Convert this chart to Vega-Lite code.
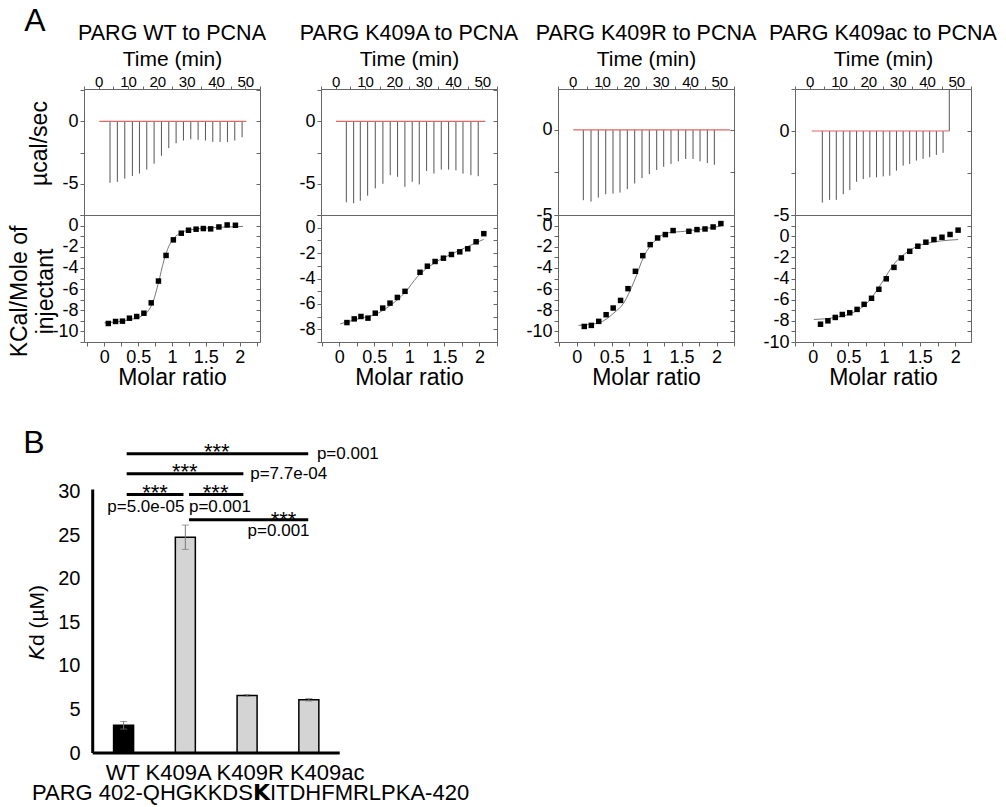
{
"$schema": "https://vega.github.io/schema/vega-lite/v6.json",
"padding": {"left": 8, "top": 5, "right": 5, "bottom": 5},
"config": {
  "font": "Liberation Sans",
  "view": {"stroke": "#666", "strokeWidth": 1},
  "axis": {"grid": false, "domain": false, "labelColor": "#000", "titleColor": "#000", "tickColor": "#666", "titleFontWeight": "normal", "labelFlush": false, "labelOverlap": false},
  "title": {"fontWeight": "normal", "fontSize": 21.5, "color": "#000"}
},
"datasets": {
  "base": [
    {"p":"WT","t":0.2,"t2":50.3,"v":0},
    {"p":"K409A","t":0.1,"t2":51,"v":0},
    {"p":"K409R","t":0.2,"t2":53.6,"v":0},
    {"p":"K409ac","t":0.7,"t2":47.6,"v":0}
  ],
  "spikes": [
    {"p":"WT","t":3.87,"v":-4.92},{"p":"WT","t":6.37,"v":-4.84},{"p":"WT","t":8.9,"v":-4.58},{"p":"WT","t":11.5,"v":-4.37},{"p":"WT","t":13.9,"v":-4.18},{"p":"WT","t":16.4,"v":-3.86},{"p":"WT","t":18.9,"v":-3.39},{"p":"WT","t":21.4,"v":-2.75},{"p":"WT","t":23.9,"v":-2.14},{"p":"WT","t":26.4,"v":-1.75},{"p":"WT","t":28.9,"v":-1.53},{"p":"WT","t":31.4,"v":-1.43},{"p":"WT","t":33.9,"v":-1.48},{"p":"WT","t":36.4,"v":-1.53},{"p":"WT","t":38.9,"v":-1.64},{"p":"WT","t":41.4,"v":-1.64},{"p":"WT","t":43.9,"v":-1.64},{"p":"WT","t":46.4,"v":-1.53},{"p":"WT","t":48.9,"v":-1.27},
    {"p":"K409A","t":3.63,"v":-6.48},{"p":"K409A","t":6.13,"v":-6.56},{"p":"K409A","t":8.4,"v":-6.35},{"p":"K409A","t":10.9,"v":-5.95},{"p":"K409A","t":13.5,"v":-5.37},{"p":"K409A","t":16.1,"v":-5.0},{"p":"K409A","t":18.6,"v":-4.31},{"p":"K409A","t":21.1,"v":-4.44},{"p":"K409A","t":23.6,"v":-5.24},{"p":"K409A","t":26.1,"v":-4.84},{"p":"K409A","t":28.5,"v":-5.05},{"p":"K409A","t":31.0,"v":-3.97},{"p":"K409A","t":33.5,"v":-4.18},{"p":"K409A","t":36.0,"v":-3.86},{"p":"K409A","t":38.5,"v":-3.86},{"p":"K409A","t":41.0,"v":-3.92},{"p":"K409A","t":43.4,"v":-4.18},{"p":"K409A","t":46.1,"v":-4.31},{"p":"K409A","t":48.6,"v":-4.39},
    {"p":"K409R","t":3.63,"v":-4.13},{"p":"K409R","t":6.25,"v":-4.21},{"p":"K409R","t":8.74,"v":-3.98},{"p":"K409R","t":11.27,"v":-3.78},{"p":"K409R","t":13.75,"v":-3.74},{"p":"K409R","t":16.14,"v":-3.68},{"p":"K409R","t":18.63,"v":-3.48},{"p":"K409R","t":21.14,"v":-3.15},{"p":"K409R","t":23.64,"v":-2.83},{"p":"K409R","t":26.13,"v":-2.6},{"p":"K409R","t":28.65,"v":-2.36},{"p":"K409R","t":31.03,"v":-2.17},{"p":"K409R","t":33.52,"v":-2.0},{"p":"K409R","t":36.02,"v":-1.85},{"p":"K409R","t":38.54,"v":-1.71},{"p":"K409R","t":41.03,"v":-1.71},{"p":"K409R","t":43.42,"v":-1.85},{"p":"K409R","t":45.91,"v":-1.95},{"p":"K409R","t":48.3,"v":-2.05},
    {"p":"K409ac","t":4.32,"v":-4.26},{"p":"K409ac","t":6.8,"v":-4.1},{"p":"K409ac","t":9.08,"v":-4.1},{"p":"K409ac","t":11.46,"v":-3.76},{"p":"K409ac","t":13.7,"v":-3.52},{"p":"K409ac","t":15.99,"v":-3.02},{"p":"K409ac","t":18.27,"v":-2.86},{"p":"K409ac","t":20.52,"v":-2.76},{"p":"K409ac","t":22.79,"v":-2.76},{"p":"K409ac","t":25.07,"v":-2.7},{"p":"K409ac","t":27.31,"v":-2.66},{"p":"K409ac","t":29.59,"v":-2.36},{"p":"K409ac","t":31.87,"v":-2.06},{"p":"K409ac","t":34.1,"v":-1.96},{"p":"K409ac","t":36.39,"v":-1.76},{"p":"K409ac","t":38.67,"v":-1.66},{"p":"K409ac","t":40.91,"v":-1.56},{"p":"K409ac","t":43.2,"v":-1.42},{"p":"K409ac","t":45.48,"v":-1.3},{"p":"K409ac","t":47.6,"v":2.5}
  ],
  "iso": [
    {"p":"WT","x":0.059,"y":-9.25},{"p":"WT","x":0.166,"y":-9.06},{"p":"WT","x":0.268,"y":-9.03},{"p":"WT","x":0.371,"y":-8.75},{"p":"WT","x":0.478,"y":-8.59},{"p":"WT","x":0.585,"y":-8.28},{"p":"WT","x":0.693,"y":-7.3},{"p":"WT","x":0.8,"y":-5.24},{"p":"WT","x":0.912,"y":-2.82},{"p":"WT","x":1.02,"y":-1.35},{"p":"WT","x":1.137,"y":-0.72},{"p":"WT","x":1.244,"y":-0.44},{"p":"WT","x":1.356,"y":-0.34},{"p":"WT","x":1.463,"y":-0.28},{"p":"WT","x":1.571,"y":-0.31},{"p":"WT","x":1.693,"y":-0.13},{"p":"WT","x":1.815,"y":0.06},{"p":"WT","x":1.937,"y":0.03},
    {"p":"K409A","x":0.11,"y":-7.47},{"p":"K409A","x":0.214,"y":-7.18},{"p":"K409A","x":0.31,"y":-6.99},{"p":"K409A","x":0.41,"y":-7.12},{"p":"K409A","x":0.514,"y":-6.73},{"p":"K409A","x":0.62,"y":-6.33},{"p":"K409A","x":0.724,"y":-5.94},{"p":"K409A","x":0.829,"y":-5.49},{"p":"K409A","x":0.938,"y":-5.01},{"p":"K409A","x":1.152,"y":-3.51},{"p":"K409A","x":1.257,"y":-3.03},{"p":"K409A","x":1.367,"y":-2.66},{"p":"K409A","x":1.486,"y":-2.4},{"p":"K409A","x":1.6,"y":-2.11},{"p":"K409A","x":1.719,"y":-1.9},{"p":"K409A","x":1.833,"y":-1.66},{"p":"K409A","x":1.952,"y":-1.11},{"p":"K409A","x":2.062,"y":-0.47},
    {"p":"K409R","x":0.106,"y":-9.53},{"p":"K409R","x":0.207,"y":-9.43},{"p":"K409R","x":0.313,"y":-9.05},{"p":"K409R","x":0.419,"y":-8.42},{"p":"K409R","x":0.52,"y":-7.79},{"p":"K409R","x":0.626,"y":-7.07},{"p":"K409R","x":0.732,"y":-5.96},{"p":"K409R","x":0.838,"y":-4.32},{"p":"K409R","x":0.944,"y":-2.84},{"p":"K409R","x":1.05,"y":-1.8},{"p":"K409R","x":1.156,"y":-1.17},{"p":"K409R","x":1.267,"y":-0.85},{"p":"K409R","x":1.378,"y":-0.47},{"p":"K409R","x":1.604,"y":-0.54},{"p":"K409R","x":1.72,"y":-0.38},{"p":"K409R","x":1.835,"y":-0.32},{"p":"K409R","x":1.951,"y":-0.13},{"p":"K409R","x":2.062,"y":0.19},
    {"p":"K409ac","x":0.108,"y":-8.32},{"p":"K409ac","x":0.212,"y":-8.0},{"p":"K409ac","x":0.315,"y":-7.68},{"p":"K409ac","x":0.414,"y":-7.4},{"p":"K409ac","x":0.518,"y":-7.24},{"p":"K409ac","x":0.621,"y":-6.92},{"p":"K409ac","x":0.72,"y":-6.44},{"p":"K409ac","x":0.824,"y":-5.87},{"p":"K409ac","x":0.927,"y":-5.02},{"p":"K409ac","x":1.031,"y":-4.03},{"p":"K409ac","x":1.139,"y":-2.95},{"p":"K409ac","x":1.243,"y":-2.06},{"p":"K409ac","x":1.36,"y":-1.43},{"p":"K409ac","x":1.474,"y":-0.95},{"p":"K409ac","x":1.587,"y":-0.57},{"p":"K409ac","x":1.7,"y":-0.32},{"p":"K409ac","x":1.813,"y":-0.1},{"p":"K409ac","x":1.926,"y":0.16},{"p":"K409ac","x":2.039,"y":0.57}
  ],
  "fit": [
    {"p":"WT","x":0.0,"y":-9.2},{"p":"WT","x":0.2,"y":-9.08},{"p":"WT","x":0.4,"y":-8.85},{"p":"WT","x":0.55,"y":-8.55},{"p":"WT","x":0.65,"y":-8.05},{"p":"WT","x":0.72,"y":-7.2},{"p":"WT","x":0.8,"y":-5.4},{"p":"WT","x":0.88,"y":-3.3},{"p":"WT","x":0.95,"y":-2.0},{"p":"WT","x":1.02,"y":-1.25},{"p":"WT","x":1.1,"y":-0.78},{"p":"WT","x":1.2,"y":-0.5},{"p":"WT","x":1.35,"y":-0.33},{"p":"WT","x":1.6,"y":-0.2},{"p":"WT","x":2.05,"y":-0.08},
    {"p":"K409A","x":0.014,"y":-7.57},{"p":"K409A","x":0.31,"y":-7.12},{"p":"K409A","x":0.5,"y":-6.86},{"p":"K409A","x":0.74,"y":-6.07},{"p":"K409A","x":0.93,"y":-5.15},{"p":"K409A","x":1.12,"y":-3.83},{"p":"K409A","x":1.36,"y":-2.77},{"p":"K409A","x":1.64,"y":-1.98},{"p":"K409A","x":2.06,"y":-0.92},
    {"p":"K409R","x":0.024,"y":-9.43},{"p":"K409R","x":0.31,"y":-9.2},{"p":"K409R","x":0.53,"y":-8.26},{"p":"K409R","x":0.67,"y":-7.32},{"p":"K409R","x":0.82,"y":-5.27},{"p":"K409R","x":0.96,"y":-2.9},{"p":"K409R","x":1.11,"y":-1.48},{"p":"K409R","x":1.3,"y":-0.69},{"p":"K409R","x":1.54,"y":-0.54},{"p":"K409R","x":2.06,"y":-0.06},
    {"p":"K409ac","x":0.014,"y":-7.87},{"p":"K409ac","x":0.315,"y":-7.68},{"p":"K409ac","x":0.59,"y":-7.14},{"p":"K409ac","x":0.78,"y":-6.19},{"p":"K409ac","x":0.965,"y":-4.44},{"p":"K409ac","x":1.15,"y":-2.54},{"p":"K409ac","x":1.34,"y":-1.43},{"p":"K409ac","x":1.58,"y":-0.7},{"p":"K409ac","x":2.04,"y":-0.32}
  ],
  "kd": [
    {"variant":"WT","pos":1,"kd":3.2,"lo":2.75,"hi":3.62},
    {"variant":"K409A","pos":2,"kd":24.8,"lo":23.4,"hi":26.2},
    {"variant":"K409R","pos":3,"kd":6.62,"lo":6.52,"hi":6.72},
    {"variant":"K409ac","pos":4,"kd":6.12,"lo":5.97,"hi":6.27}
  ],
  "brackets": [
    {"from":1.05,"to":3.99,"y":34.4},
    {"from":1.05,"to":2.94,"y":32.1},
    {"from":1.05,"to":1.97,"y":29.7},
    {"from":2.06,"to":2.94,"y":29.7},
    {"from":2.06,"to":3.99,"y":26.8}
  ],
  "stars": [
    {"x":2.51,"y":33.77,"label":"***"},
    {"x":1.99,"y":31.47,"label":"***"},
    {"x":1.51,"y":29.09,"label":"***"},
    {"x":2.49,"y":29.09,"label":"***"},
    {"x":3.59,"y":26.03,"label":"***"}
  ],
  "pvals": [
    {"x":4.13,"y":34.4,"label":"p=0.001","side":"right"},
    {"x":3.05,"y":32.1,"label":"p=7.7e-04","side":"right"},
    {"x":1.36,"y":28.25,"label":"p=5.0e-05","side":"below"},
    {"x":2.56,"y":28.25,"label":"p=0.001","side":"below"},
    {"x":3.51,"y":25.47,"label":"p=0.001","side":"below"}
  ],
  "letters": [
    {"label":"A","x":-0.435,"y":84.1},
    {"label":"B","x":-0.451,"y":35.6}
  ],
  "bottomtext": [
    {"label":"WT K409A K409R K409ac","x":0.71,"y":-3.07},
    {"label":"PARG 402-QHGKKDS\ud835\udddeITDHFMRLPKA-420","x":-0.483,"y":-5.37}
  ]
},
"columns": 4,
"bounds": "flush",
"spacing": {"row": 0, "column": 61},
"concat": [
 {
  "width": 176, "height": 126,
  "title": {"text": "PARG WT to PCNA", "offset": 4},
  "encoding": {
    "x": {"field": "t", "type": "quantitative", "scale": {"domain": [-5, 55], "nice": false, "zero": false}, "axis": {"orient": "top", "title": "Time (min)", "values": [-5,0,5,10,15,20,25,30,35,40,45,50,55], "labelExpr": "datum.value >= 0 && datum.value <= 50 && datum.value % 10 == 0 ? '' + datum.value : ''", "labelFontSize": 15, "titleFontSize": 21, "tickSize": 3, "labelPadding": -3, "titlePadding": 5}},
    "y": {"field": "v", "type": "quantitative", "scale": {"domain": [-7.5, 2.6], "nice": false, "zero": false}, "axis": {"title": "µcal/sec", "titleY": 54, "values": [-7.5,-5,-2.5,0,2.5], "labelExpr": "datum.value % 5 == 0 ? '' + datum.value : ''", "labelFontSize": 18, "titleFontSize": 23, "tickSize": 4, "labelPadding": 2, "titlePadding": 10}}
  },
  "resolve": {"axis": {"y": "independent"}},
  "layer": [
    {"data": {"name": "spikes"}, "transform": [{"filter": "datum.p == 'WT'"}], "mark": {"type": "rule", "color": "#555", "strokeWidth": 1, "clip": true}, "encoding": {"y2": {"datum": 0}}},
    {"data": {"name": "base"}, "transform": [{"filter": "datum.p == 'WT'"}], "mark": {"type": "rule", "color": "#e06666", "strokeWidth": 1.2}, "encoding": {"x2": {"field": "t2"}, "y": {"field": "v", "type": "quantitative", "axis": {"orient": "right", "labels": false, "title": null, "values": [-7.5,-5,-2.5,0,2.5], "tickSize": -4}}}}
  ]
 },
 {
  "width": 176, "height": 126,
  "title": {"text": "PARG K409A to PCNA", "offset": 4},
  "encoding": {
    "x": {"field": "t", "type": "quantitative", "scale": {"domain": [-5, 55], "nice": false, "zero": false}, "axis": {"orient": "top", "title": "Time (min)", "values": [-5,0,5,10,15,20,25,30,35,40,45,50,55], "labelExpr": "datum.value >= 0 && datum.value <= 50 && datum.value % 10 == 0 ? '' + datum.value : ''", "labelFontSize": 15, "titleFontSize": 21, "tickSize": 3, "labelPadding": -3, "titlePadding": 5}},
    "y": {"field": "v", "type": "quantitative", "scale": {"domain": [-7.5, 2.6], "nice": false, "zero": false}, "axis": {"title": null, "values": [-7.5,-5,-2.5,0,2.5], "labelExpr": "datum.value % 5 == 0 ? '' + datum.value : ''", "labelFontSize": 18, "tickSize": 4, "labelPadding": 2}}
  },
  "resolve": {"axis": {"y": "independent"}},
  "layer": [
    {"data": {"name": "spikes"}, "transform": [{"filter": "datum.p == 'K409A'"}], "mark": {"type": "rule", "color": "#555", "strokeWidth": 1, "clip": true}, "encoding": {"y2": {"datum": 0}}},
    {"data": {"name": "base"}, "transform": [{"filter": "datum.p == 'K409A'"}], "mark": {"type": "rule", "color": "#e06666", "strokeWidth": 1.2}, "encoding": {"x2": {"field": "t2"}, "y": {"field": "v", "type": "quantitative", "axis": {"orient": "right", "labels": false, "title": null, "values": [-7.5,-5,-2.5,0,2.5], "tickSize": -4}}}}
  ]
 },
 {
  "width": 176, "height": 126,
  "title": {"text": "PARG K409R to PCNA", "offset": 4},
  "encoding": {
    "x": {"field": "t", "type": "quantitative", "scale": {"domain": [-5, 55], "nice": false, "zero": false}, "axis": {"orient": "top", "title": "Time (min)", "values": [-5,0,5,10,15,20,25,30,35,40,45,50,55], "labelExpr": "datum.value >= 0 && datum.value <= 50 && datum.value % 10 == 0 ? '' + datum.value : ''", "labelFontSize": 15, "titleFontSize": 21, "tickSize": 3, "labelPadding": -3, "titlePadding": 5}},
    "y": {"field": "v", "type": "quantitative", "scale": {"domain": [-5, 2.4], "nice": false, "zero": false}, "axis": {"title": null, "values": [-5,-2.5,0], "labelExpr": "datum.value % 5 == 0 ? '' + datum.value : ''", "labelFontSize": 18, "tickSize": 4, "labelPadding": 2}}
  },
  "resolve": {"axis": {"y": "independent"}},
  "layer": [
    {"data": {"name": "spikes"}, "transform": [{"filter": "datum.p == 'K409R'"}], "mark": {"type": "rule", "color": "#555", "strokeWidth": 1, "clip": true}, "encoding": {"y2": {"datum": 0}}},
    {"data": {"name": "base"}, "transform": [{"filter": "datum.p == 'K409R'"}], "mark": {"type": "rule", "color": "#e06666", "strokeWidth": 1.2}, "encoding": {"x2": {"field": "t2"}, "y": {"field": "v", "type": "quantitative", "axis": {"orient": "right", "labels": false, "title": null, "values": [-5,-2.5,0], "tickSize": -4}}}}
  ]
 },
 {
  "width": 176, "height": 126,
  "title": {"text": "PARG K409ac to PCNA", "offset": 4},
  "encoding": {
    "x": {"field": "t", "type": "quantitative", "scale": {"domain": [-5, 55], "nice": false, "zero": false}, "axis": {"orient": "top", "title": "Time (min)", "values": [-5,0,5,10,15,20,25,30,35,40,45,50,55], "labelExpr": "datum.value >= 0 && datum.value <= 50 && datum.value % 10 == 0 ? '' + datum.value : ''", "labelFontSize": 15, "titleFontSize": 21, "tickSize": 3, "labelPadding": -3, "titlePadding": 5}},
    "y": {"field": "v", "type": "quantitative", "scale": {"domain": [-5, 2.5], "nice": false, "zero": false}, "axis": {"title": null, "values": [-5,-2.5,0,2.5], "labelExpr": "datum.value % 5 == 0 ? '' + datum.value : ''", "labelFontSize": 18, "tickSize": 4, "labelPadding": 2}}
  },
  "resolve": {"axis": {"y": "independent"}},
  "layer": [
    {"data": {"name": "spikes"}, "transform": [{"filter": "datum.p == 'K409ac'"}], "mark": {"type": "rule", "color": "#555", "strokeWidth": 1, "clip": true}, "encoding": {"y2": {"datum": 0}}},
    {"data": {"name": "base"}, "transform": [{"filter": "datum.p == 'K409ac'"}], "mark": {"type": "rule", "color": "#e06666", "strokeWidth": 1.2}, "encoding": {"x2": {"field": "t2"}, "y": {"field": "v", "type": "quantitative", "axis": {"orient": "right", "labels": false, "title": null, "values": [-5,-2.5,0,2.5], "tickSize": -4}}}}
  ]
 },
 {
  "width": 176, "height": 127,
  "encoding": {
    "x": {"field": "x", "type": "quantitative", "scale": {"domain": [-0.3, 2.3], "nice": false, "zero": false}, "axis": {"title": "Molar ratio", "values": [-0.25,0,0.25,0.5,0.75,1,1.25,1.5,1.75,2,2.25], "labelExpr": "datum.value >= 0 && datum.value % 0.5 == 0 ? '' + datum.value : ''", "labelFontSize": 18, "titleFontSize": 23, "tickSize": 4, "labelPadding": 2, "titlePadding": 0}},
    "y": {"field": "y", "type": "quantitative", "scale": {"domain": [-11, 1], "nice": false, "zero": false}, "axis": {"title": ["KCal/Mole of", "injectant"], "titleY": 76, "titleLineHeight": 26, "values": [-11,-10,-9,-8,-7,-6,-5,-4,-3,-2,-1,0,1], "labelExpr": "datum.value <= 0 && datum.value % 2 == 0 ? '' + datum.value : ''", "labelFontSize": 18, "titleFontSize": 23, "tickSize": 4, "labelPadding": 2, "titlePadding": -6}}
  },
  "resolve": {"axis": {"y": "independent"}},
  "layer": [
    {"data": {"name": "fit"}, "transform": [{"filter": "datum.p == 'WT'"}], "mark": {"type": "line", "color": "#777", "strokeWidth": 1, "interpolate": "monotone"}},
    {"data": {"name": "iso"}, "transform": [{"filter": "datum.p == 'WT'"}], "mark": {"type": "square", "size": 30, "color": "#000", "opacity": 1}, "encoding": {"y": {"field": "y", "type": "quantitative", "axis": {"orient": "right", "labels": false, "title": null, "values": [-11,-10,-9,-8,-7,-6,-5,-4,-3,-2,-1,0,1], "tickSize": -4}}}}
  ]
 },
 {
  "width": 176, "height": 127,
  "encoding": {
    "x": {"field": "x", "type": "quantitative", "scale": {"domain": [-0.26, 2.25], "nice": false, "zero": false}, "axis": {"title": "Molar ratio", "values": [-0.25,0,0.25,0.5,0.75,1,1.25,1.5,1.75,2,2.25], "labelExpr": "datum.value >= 0 && datum.value % 0.5 == 0 ? '' + datum.value : ''", "labelFontSize": 18, "titleFontSize": 23, "tickSize": 4, "labelPadding": 2, "titlePadding": 0}},
    "y": {"field": "y", "type": "quantitative", "scale": {"domain": [-9, 1], "nice": false, "zero": false}, "axis": {"title": null, "values": [-9,-8,-7,-6,-5,-4,-3,-2,-1,0,1], "labelExpr": "datum.value <= 0 && datum.value % 2 == 0 ? '' + datum.value : ''", "labelFontSize": 18, "tickSize": 4, "labelPadding": 2}}
  },
  "resolve": {"axis": {"y": "independent"}},
  "layer": [
    {"data": {"name": "fit"}, "transform": [{"filter": "datum.p == 'K409A'"}], "mark": {"type": "line", "color": "#777", "strokeWidth": 1, "interpolate": "monotone"}},
    {"data": {"name": "iso"}, "transform": [{"filter": "datum.p == 'K409A'"}], "mark": {"type": "square", "size": 30, "color": "#000", "opacity": 1}, "encoding": {"y": {"field": "y", "type": "quantitative", "axis": {"orient": "right", "labels": false, "title": null, "values": [-9,-8,-7,-6,-5,-4,-3,-2,-1,0,1], "tickSize": -4}}}}
  ]
 },
 {
  "width": 176, "height": 127,
  "encoding": {
    "x": {"field": "x", "type": "quantitative", "scale": {"domain": [-0.27, 2.25], "nice": false, "zero": false}, "axis": {"title": "Molar ratio", "values": [-0.25,0,0.25,0.5,0.75,1,1.25,1.5,1.75,2,2.25], "labelExpr": "datum.value >= 0 && datum.value % 0.5 == 0 ? '' + datum.value : ''", "labelFontSize": 18, "titleFontSize": 23, "tickSize": 4, "labelPadding": 2, "titlePadding": 0}},
    "y": {"field": "y", "type": "quantitative", "scale": {"domain": [-11, 1], "nice": false, "zero": false}, "axis": {"title": null, "values": [-11,-10,-9,-8,-7,-6,-5,-4,-3,-2,-1,0,1], "labelExpr": "datum.value <= 0 && datum.value % 2 == 0 ? '' + datum.value : ''", "labelFontSize": 18, "tickSize": 4, "labelPadding": 2}}
  },
  "resolve": {"axis": {"y": "independent"}},
  "layer": [
    {"data": {"name": "fit"}, "transform": [{"filter": "datum.p == 'K409R'"}], "mark": {"type": "line", "color": "#777", "strokeWidth": 1, "interpolate": "monotone"}},
    {"data": {"name": "iso"}, "transform": [{"filter": "datum.p == 'K409R'"}], "mark": {"type": "square", "size": 30, "color": "#000", "opacity": 1}, "encoding": {"y": {"field": "y", "type": "quantitative", "axis": {"orient": "right", "labels": false, "title": null, "values": [-11,-10,-9,-8,-7,-6,-5,-4,-3,-2,-1,0,1], "tickSize": -4}}}}
  ]
 },
 {
  "width": 176, "height": 127,
  "encoding": {
    "x": {"field": "x", "type": "quantitative", "scale": {"domain": [-0.25, 2.22], "nice": false, "zero": false}, "axis": {"title": "Molar ratio", "values": [-0.25,0,0.25,0.5,0.75,1,1.25,1.5,1.75,2], "labelExpr": "datum.value >= 0 && datum.value % 0.5 == 0 ? '' + datum.value : ''", "labelFontSize": 18, "titleFontSize": 23, "tickSize": 4, "labelPadding": 2, "titlePadding": 0}},
    "y": {"field": "y", "type": "quantitative", "scale": {"domain": [-10, 2], "nice": false, "zero": false}, "axis": {"title": null, "values": [-10,-9,-8,-7,-6,-5,-4,-3,-2,-1,0,1,2], "labelExpr": "datum.value <= 0 && datum.value % 2 == 0 ? '' + datum.value : ''", "labelFontSize": 18, "tickSize": 4, "labelPadding": 2}}
  },
  "resolve": {"axis": {"y": "independent"}},
  "layer": [
    {"data": {"name": "fit"}, "transform": [{"filter": "datum.p == 'K409ac'"}], "mark": {"type": "line", "color": "#777", "strokeWidth": 1, "interpolate": "monotone"}},
    {"data": {"name": "iso"}, "transform": [{"filter": "datum.p == 'K409ac'"}], "mark": {"type": "square", "size": 30, "color": "#000", "opacity": 1}, "encoding": {"y": {"field": "y", "type": "quantitative", "axis": {"orient": "right", "labels": false, "title": null, "values": [-10,-9,-8,-7,-6,-5,-4,-3,-2,-1,0,1,2], "tickSize": -4}}}}
  ]
 },
 {
  "width": 176, "height": 411,
  "view": {"stroke": null},
  "layer": [
    {"data": {"name": "kd"}, "mark": {"type": "bar", "size": 20, "stroke": "#000", "strokeWidth": 1.5},
     "encoding": {
       "x": {"field": "pos", "type": "quantitative", "scale": {"domain": [0.359, 3.209], "nice": false, "zero": false, "padding": 0}, "axis": null},
       "y": {"field": "kd", "type": "quantitative", "scale": {"domain": [0, 47.24], "nice": false, "zero": false, "padding": 0}, "title": "\ud835\ude12d (µM)",
             "axis": {"values": [0,5,10,15,20,25,30], "title": "\ud835\ude12d (µM)", "titleY": 280, "labelFontSize": 20, "titleFontSize": 21, "domain": false, "ticks": false, "labelPadding": 4, "titlePadding": 10}},
       "fill": {"field": "variant", "type": "nominal", "scale": {"domain": ["WT","K409A","K409R","K409ac"], "range": ["#000","#d4d4d4","#d4d4d4","#d4d4d4"]}, "legend": null}
     }},
    {"data": {"name": "kd"}, "mark": {"type": "errorbar", "orient": "vertical", "color": "#777", "ticks": {"size": 7, "color": "#777"}},
     "encoding": {"x": {"field": "pos", "type": "quantitative", "axis": null}, "y": {"field": "lo", "type": "quantitative", "title": "\ud835\ude12d (µM)"}, "y2": {"field": "hi"}}},
    {"data": {"values": [{}]}, "mark": {"type": "rule", "color": "#000", "strokeWidth": 3},
     "encoding": {"x": {"datum": 0.5, "type": "quantitative", "axis": null}, "y": {"datum": 0, "type": "quantitative", "title": "\ud835\ude12d (µM)"}, "y2": {"datum": 30.3}}},
    {"data": {"values": [{}]}, "mark": {"type": "rule", "color": "#000", "strokeWidth": 3},
     "encoding": {"x": {"datum": 0.5, "type": "quantitative", "axis": null}, "x2": {"datum": 4.5}, "y": {"datum": 0, "type": "quantitative", "title": "\ud835\ude12d (µM)"}}},
    {"data": {"name": "brackets"}, "mark": {"type": "rule", "color": "#000", "strokeWidth": 3},
     "encoding": {"x": {"field": "from", "type": "quantitative", "axis": null}, "x2": {"field": "to"}, "y": {"field": "y", "type": "quantitative", "title": "\ud835\ude12d (µM)"}}},
    {"data": {"name": "stars"}, "mark": {"type": "text", "fontSize": 22, "align": "center", "baseline": "alphabetic"},
     "encoding": {"x": {"field": "x", "type": "quantitative", "axis": null}, "y": {"field": "y", "type": "quantitative", "title": "\ud835\ude12d (µM)"}, "text": {"field": "label"}}},
    {"data": {"name": "pvals"}, "transform": [{"filter": "datum.side == 'right'"}], "mark": {"type": "text", "fontSize": 17, "align": "left", "baseline": "middle"},
     "encoding": {"x": {"field": "x", "type": "quantitative", "axis": null}, "y": {"field": "y", "type": "quantitative", "title": "\ud835\ude12d (µM)"}, "text": {"field": "label"}}},
    {"data": {"name": "pvals"}, "transform": [{"filter": "datum.side == 'below'"}], "mark": {"type": "text", "fontSize": 17, "align": "center", "baseline": "middle"},
     "encoding": {"x": {"field": "x", "type": "quantitative", "axis": null}, "y": {"field": "y", "type": "quantitative", "title": "\ud835\ude12d (µM)"}, "text": {"field": "label"}}},
    {"data": {"name": "bottomtext"}, "mark": {"type": "text", "fontSize": 22, "align": "left", "baseline": "alphabetic"},
     "encoding": {"x": {"field": "x", "type": "quantitative", "axis": null}, "y": {"field": "y", "type": "quantitative", "title": "\ud835\ude12d (µM)"}, "text": {"field": "label"}}},
    {"data": {"name": "letters"}, "mark": {"type": "text", "fontSize": 32, "align": "center", "baseline": "middle"},
     "encoding": {"x": {"field": "x", "type": "quantitative", "axis": null}, "y": {"field": "y", "type": "quantitative", "title": "\ud835\ude12d (µM)"}, "text": {"field": "label"}}}
  ]
 }
]
}
